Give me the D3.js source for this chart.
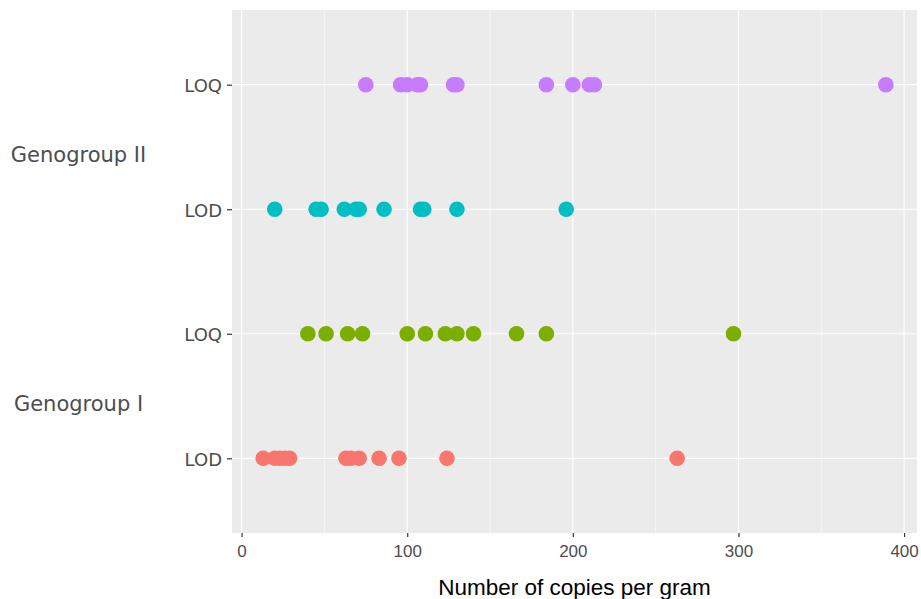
<!DOCTYPE html>
<html><head><meta charset="utf-8">
<script src="https://cdn.jsdelivr.net/npm/d3@7"></script>
<style>body{margin:0;background:#fff;}</style>
</head><body>
<script>
const categories = ["GI_LOD", "GI_LOQ", "GII_LOD", "GII_LOQ"];
const tickLabels = ["LOD", "LOQ", "LOD", "LOQ"];
const groupLabels = ["Genogroup I", "Genogroup II"];
const colors = ["#F8766D", "#7CAE00", "#00BFC4", "#C77CFF"];
const giLOD = [13, 20, 23, 26, 29, 63, 66, 71, 83, 95, 124, 263];
const giLOQ = [40, 51, 64, 73, 100, 111, 123, 130, 140, 166, 184, 297];
const giiLOD = [20, 45, 48, 62, 69, 71, 86, 108, 110, 130, 196];
const giiLOQ = [75, 96, 100, 106, 108, 128, 130, 184, 200, 210, 213, 389];
const xTicks = [0, 100, 200, 300, 400];
const xMinor = [50, 150, 250, 350];
const xTitle = "Number of copies per gram";

const series = [giLOD, giLOQ, giiLOD, giiLOQ];
const W = 921, H = 599;
const svg = d3.select("body").append("svg").attr("width", W).attr("height", H);
const panel = {l: 232, r: 917, t: 10, b: 533};

const all = series.flat();
const [mn, mx] = d3.extent(all);
const pad = (mx - mn) * 0.05;
const x = d3.scaleLinear().domain([mn - pad, mx + pad]).range([panel.l, panel.r]);
const y = d3.scalePoint().domain(categories).range([panel.b, panel.t]).padding(0.6);

svg.append("rect").attr("x", panel.l).attr("y", panel.t)
  .attr("width", panel.r - panel.l).attr("height", panel.b - panel.t).attr("fill", "#EBEBEB");

svg.selectAll(".minor").data(xMinor).join("line")
  .attr("x1", d => x(d)).attr("x2", d => x(d)).attr("y1", panel.t).attr("y2", panel.b)
  .attr("stroke", "#fff").attr("stroke-width", 0.6);
svg.selectAll(".major").data(xTicks).join("line")
  .attr("x1", d => x(d)).attr("x2", d => x(d)).attr("y1", panel.t).attr("y2", panel.b)
  .attr("stroke", "#fff").attr("stroke-width", 1.2);
svg.selectAll(".hmajor").data(categories).join("line")
  .attr("x1", panel.l).attr("x2", panel.r).attr("y1", d => y(d)).attr("y2", d => y(d))
  .attr("stroke", "#fff").attr("stroke-width", 1.2);

series.forEach((vals, i) => {
  svg.append("g").selectAll("circle").data(vals).join("circle")
    .attr("cx", d => x(d)).attr("cy", y(categories[i])).attr("r", 7.8)
    .attr("fill", colors[i]);
});

// x axis
const xa = svg.append("g").attr("transform", `translate(0,${panel.b})`)
  .call(d3.axisBottom(x).tickValues(xTicks).tickSize(4).tickPadding(8));
xa.select(".domain").remove();
xa.selectAll("line").attr("stroke", "#333").attr("stroke-width", 1.2);
xa.selectAll("text").attr("fill", "#4D4D4D").attr("font-family", "Liberation Sans, Arial, sans-serif").attr("font-size", 17);

// y axis
const ya = svg.append("g").attr("transform", `translate(${panel.l},0)`)
  .call(d3.axisLeft(y).tickFormat((d, i) => tickLabels[i]).tickSize(5).tickPadding(5));
ya.select(".domain").remove();
ya.selectAll("line").attr("stroke", "#333").attr("stroke-width", 1.2);
ya.selectAll("text").attr("fill", "#4D4D4D").attr("font-family", "DejaVu Sans, Verdana, sans-serif").attr("font-size", 18).attr("dy", "0.4em");

// group labels
svg.selectAll(".grp").data(groupLabels).join("text")
  .attr("x", 78.5)
  .attr("y", (d, i) => (y(categories[i * 2]) + y(categories[i * 2 + 1])) / 2 + 15)
  .attr("text-anchor", "middle")
  .attr("fill", "#4D4D4D").attr("font-family", "DejaVu Sans, Verdana, sans-serif").attr("font-size", 21)
  .text(d => d);

svg.append("text").attr("x", (panel.l + panel.r) / 2).attr("y", 595)
  .attr("text-anchor", "middle").attr("fill", "#000")
  .attr("font-family", "Liberation Sans, Arial, sans-serif").attr("font-size", 22.5)
  .text(xTitle);
</script>
</body></html>
